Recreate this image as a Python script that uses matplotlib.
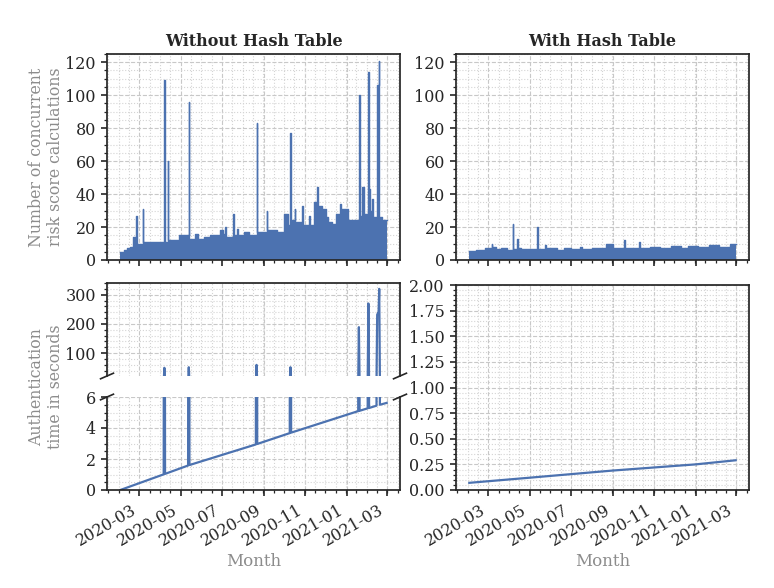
import matplotlib
matplotlib.use('Agg')
import matplotlib.pyplot as plt
import matplotlib.dates as mdates
import matplotlib.ticker as mticker
import pandas as pd

plt.rcParams['font.family'] = 'DejaVu Serif'
plt.rcParams['font.size'] = 11
plt.rcParams['text.color'] = '#262626'
plt.rcParams['xtick.color'] = '#262626'
plt.rcParams['ytick.color'] = '#262626'
plt.rcParams['xtick.labelsize'] = 11.5
plt.rcParams['ytick.labelsize'] = 11.5

BLUE = '#4c72b0'
GREY = '#8c8c8c'

# ── data ───────────────────────────────────────────────────────
# concurrent risk score calculations, step starts and values
nohash_dates = ['2020-02-02', '2020-02-07', '2020-02-12', '2020-02-16', '2020-02-21',
                '2020-02-24', '2020-02-25', '2020-02-26', '2020-03-06', '2020-03-07',
                '2020-04-07', '2020-04-08', '2020-04-12', '2020-04-13', '2020-04-28',
                '2020-05-13', '2020-05-14', '2020-05-22', '2020-05-27', '2020-06-05',
                '2020-06-13', '2020-06-28', '2020-07-03', '2020-07-06', '2020-07-07',
                '2020-07-17', '2020-07-18', '2020-07-23', '2020-07-24', '2020-08-03',
                '2020-08-10', '2020-08-21', '2020-08-22', '2020-09-05', '2020-09-06',
                '2020-09-20', '2020-10-01', '2020-10-07', '2020-10-10', '2020-10-11',
                '2020-10-16', '2020-10-17', '2020-10-27', '2020-10-28', '2020-11-07',
                '2020-11-08', '2020-11-14', '2020-11-18', '2020-11-19', '2020-11-25',
                '2020-12-01', '2020-12-05', '2020-12-10', '2020-12-16', '2020-12-22',
                '2020-12-23', '2021-01-03', '2021-01-19', '2021-01-20', '2021-01-24',
                '2021-01-26', '2021-02-02', '2021-02-03', '2021-02-04', '2021-02-08',
                '2021-02-09', '2021-02-15', '2021-02-17', '2021-02-18', '2021-02-22']
nohash_counts = [5, 6, 7, 8, 14,
                 10, 27, 10, 31, 11,
                 109, 11, 60, 12, 15,
                 96, 13, 16, 13, 14,
                 15, 18, 16, 20, 14,
                 28, 15, 19, 15, 17,
                 15, 83, 17, 30, 18,
                 17, 28, 21, 77, 24,
                 31, 23, 33, 21, 27,
                 21, 35, 44, 33, 31,
                 26, 23, 22, 28, 34,
                 31, 24, 100, 27, 44,
                 28, 114, 43, 30, 37,
                 26, 106, 121, 26, 24]

hash_dates = ['2020-02-02', '2020-02-12', '2020-02-25', '2020-03-06', '2020-03-07',
              '2020-03-12', '2020-03-20', '2020-03-28', '2020-04-06', '2020-04-07',
              '2020-04-13', '2020-04-14', '2020-04-18', '2020-05-12', '2020-05-13',
              '2020-05-24', '2020-05-25', '2020-06-10', '2020-06-20', '2020-07-01',
              '2020-07-15', '2020-07-17', '2020-08-01', '2020-08-18', '2020-08-21',
              '2020-09-01', '2020-09-17', '2020-09-18', '2020-10-10', '2020-10-11',
              '2020-10-25', '2020-11-10', '2020-11-25', '2020-12-10', '2020-12-20',
              '2021-01-05', '2021-01-20', '2021-02-05', '2021-02-20']
hash_counts = [5.5, 6, 7, 9.5, 8,
               6.5, 7.5, 6, 22, 6.5,
               12.5, 7, 6.5, 20, 6.5,
               9, 7, 6, 7, 6.5,
               8, 6.5, 7.5, 7, 10,
               7, 12, 7.5, 11, 7,
               8, 7, 8.5, 7.5, 8.5,
               8, 9, 8, 9.5]
last_day = '2021-03-01'

# authentication time in seconds
auth_nohash_dates = ['2020-02-02', '2020-04-06', '2020-04-07', '2020-04-08', '2020-05-12',
                     '2020-05-13', '2020-05-14', '2020-08-20', '2020-08-21', '2020-08-22',
                     '2020-10-09', '2020-10-10', '2020-10-11', '2021-01-18', '2021-01-19',
                     '2021-01-20', '2021-02-01', '2021-02-02', '2021-02-03', '2021-02-14',
                     '2021-02-15', '2021-02-16', '2021-02-17', '2021-02-18', '2021-02-19',
                     '2021-03-01']
auth_nohash_secs = [0.0, 1.01, 50, 1.04, 1.58,
                    52, 1.61, 2.94, 60, 2.97,
                    3.67, 52, 3.70, 5.09, 189,
                    5.11, 5.27, 270, 5.29, 5.44,
                    232, 236, 234, 320, 5.50,
                    5.62]

auth_hash_dates = ['2020-02-02', '2020-05-01', '2020-09-01', '2021-01-01', '2021-03-01']
auth_hash_secs = [0.07, 0.12, 0.19, 0.25, 0.29]


def style(ax):
    ax.xaxis.set_minor_locator(mticker.AutoMinorLocator())
    ax.yaxis.set_minor_locator(mticker.AutoMinorLocator())
    ax.set_axisbelow(True)
    ax.grid(which='major', ls='--', color='#c8c8c8', lw=0.8)
    ax.grid(which='minor', ls=':', color='#d4d4d4', lw=0.8)
    ax.tick_params(which='major', length=4.5, width=1.2, direction='out')
    ax.tick_params(which='minor', length=2.5, width=0.9, direction='out')
    for s in ax.spines.values():
        s.set_linewidth(1.25)
        s.set_color('#262626')


def steps(dates, vals):
    x = pd.to_datetime(dates + [last_day])
    y = list(vals) + [vals[-1]]
    return x, y


fig = plt.figure(figsize=(7.74, 5.88), dpi=100)
W, H = 774, 588


def rect(l, t, r, b):
    return [l / W, 1 - b / H, (r - l) / W, (b - t) / H]


ax_tl = fig.add_axes(rect(107, 54, 400, 260))
ax_tr = fig.add_axes(rect(456, 54, 749, 260), sharex=ax_tl)
ax_bu = fig.add_axes(rect(107, 283, 400, 376), sharex=ax_tl)
ax_bl = fig.add_axes(rect(107, 397, 400, 490), sharex=ax_tl)
ax_br = fig.add_axes(rect(456, 285, 749, 490), sharex=ax_tl)

# top row: concurrent calculations
for ax, d, v in [(ax_tl, nohash_dates, nohash_counts), (ax_tr, hash_dates, hash_counts)]:
    x, y = steps(d, v)
    ax.fill_between(x, y, step='post', color=BLUE, lw=0)
    ax.step(x, y, where='post', color=BLUE, lw=1.0)
    ax.set_ylim(0, 125)
    ax.yaxis.set_major_locator(mticker.MultipleLocator(20))
    style(ax)
    ax.tick_params(labelbottom=False)

ax_tl.set_title('Without Hash Table', fontweight='bold', fontsize=11.5)
ax_tr.set_title('With Hash Table', fontweight='bold', fontsize=11.5)

# bottom left: broken axis
xa = pd.to_datetime(auth_nohash_dates)
for ax in (ax_bu, ax_bl):
    ax.plot(xa, auth_nohash_secs, color=BLUE, lw=1.6)
    style(ax)
ax_bu.set_ylim(22, 340)
ax_bu.yaxis.set_major_locator(mticker.MultipleLocator(100))
ax_bl.set_ylim(0, 6)
ax_bl.yaxis.set_major_locator(mticker.MultipleLocator(2))
ax_bu.spines['bottom'].set_visible(False)
ax_bl.spines['top'].set_visible(False)
ax_bu.tick_params(which='both', bottom=False, labelbottom=False)

dx, dy = 0.022, 0.03
kw = dict(color='#262626', clip_on=False, lw=1.2)
ax_bu.plot([-dx, dx], [-dy, dy], transform=ax_bu.transAxes, **kw)
ax_bu.plot([1 - dx, 1 + dx], [-dy, dy], transform=ax_bu.transAxes, **kw)
ax_bl.plot([-dx, dx], [1 - dy, 1 + dy], transform=ax_bl.transAxes, **kw)
ax_bl.plot([1 - dx, 1 + dx], [1 - dy, 1 + dy], transform=ax_bl.transAxes, **kw)

# bottom right
ax_br.plot(pd.to_datetime(auth_hash_dates), auth_hash_secs, color=BLUE, lw=1.6)
ax_br.set_ylim(0, 2.0)
ax_br.yaxis.set_major_locator(mticker.MultipleLocator(0.25))
ax_br.yaxis.set_major_formatter(mticker.FormatStrFormatter('%.2f'))
style(ax_br)

ax_tl.xaxis.set_major_formatter(mdates.DateFormatter('%Y-%m'))

for ax in (ax_bl, ax_br):
    ax.set_xlabel('Month', color=GREY, fontsize=12, labelpad=3)

fig.text(0.0594, 1 - 157 / H, 'Number of concurrent\nrisk score calculations',
         rotation=90, ha='center', va='center', ma='center', color=GREY, fontsize=11.3)
fig.text(0.0594, 1 - 387 / H, 'Authentication\ntime in seconds',
         rotation=90, ha='center', va='center', ma='center', color=GREY, fontsize=11.3)

fig.canvas.draw()
for ax in (ax_bl, ax_br):
    for lab in ax.get_xticklabels():
        lab.set_rotation(30)
        lab.set_ha('right')

fig.savefig('out.png', dpi=100, facecolor='white')
